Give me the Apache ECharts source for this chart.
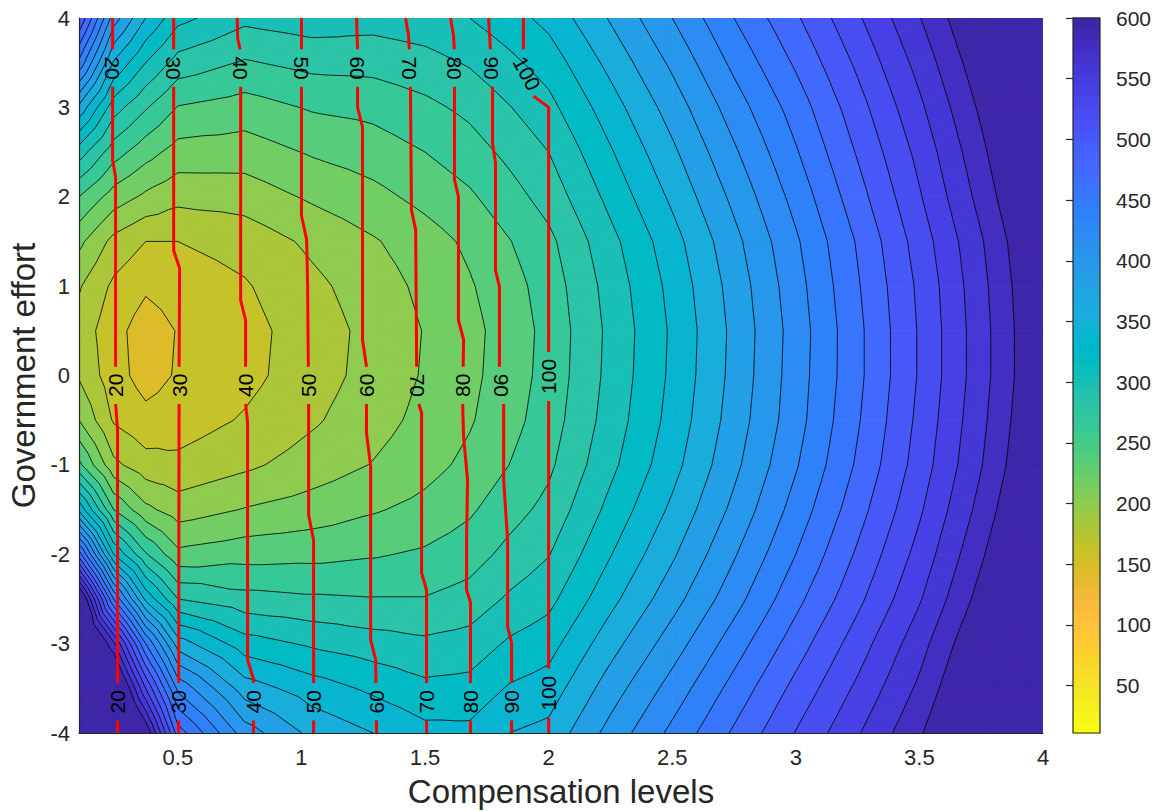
<!DOCTYPE html>
<html>
<head>
<meta charset="utf-8">
<script src="https://cdn.jsdelivr.net/npm/echarts@6.0.0/dist/echarts.min.js"></script>
<style>
html, body { margin: 0; padding: 0; background: #ffffff; }
#chart { width: 1165px; height: 811px; }
</style>
</head>
<body>
<div id="chart"></div>
<script>
// ---- surface sampled on a grid (compensation level x government effort) ----
const xNodes = [0.1, 0.24, 0.37, 0.5, 0.77, 1.04, 1.29, 1.5, 1.68, 1.84, 2.0, 2.25, 2.5, 2.75, 3.0, 3.25, 3.5, 3.75, 4.0];
const yNodes = [4, 3.5, 3, 2.5, 2, 1.5, 1, 0.5, 0, -0.5, -1, -1.5, -2, -2.5, -3, -3.5, -4];
const zRows = [
  [500, 390, 340, 306, 285, 291, 288, 292, 300, 312, 326, 362, 400, 440, 477, 517, 559, 605, 658],
  [435, 338, 300, 272, 258, 266, 267, 273, 282, 295, 309, 346, 384, 425, 463, 504, 547, 594, 647],
  [355, 289, 262, 239, 231, 242, 246, 255, 265, 279, 294, 331, 369, 410, 449, 492, 536, 584, 636],
  [290, 249, 228, 212, 210, 222, 230, 240, 251, 265, 280, 318, 356, 397, 438, 482, 526, 575, 627],
  [240, 211, 196, 186, 189, 203, 214, 226, 237, 252, 268, 306, 344, 385, 427, 472, 518, 567, 619],
  [205, 174, 160, 160, 168, 184, 198, 211, 224, 239, 255, 294, 332, 374, 417, 462, 509, 558, 610],
  [182, 156, 143, 148, 158, 175, 190, 205, 218, 232, 249, 288, 326, 368, 412, 458, 504, 554, 606],
  [172, 147, 130, 141, 153, 170, 186, 201, 214, 229, 246, 285, 323, 365, 409, 455, 502, 552, 604],
  [178, 148, 132, 142, 154, 171, 187, 202, 215, 230, 247, 286, 324, 366, 410, 455, 502, 552, 604],
  [200, 158, 146, 150, 162, 177, 192, 206, 218, 233, 250, 289, 327, 369, 412, 458, 505, 555, 607],
  [245, 185, 168, 165, 176, 189, 201, 213, 225, 240, 256, 295, 333, 375, 418, 463, 509, 559, 611],
  [335, 240, 205, 190, 201, 209, 218, 226, 237, 252, 266, 306, 344, 385, 428, 472, 517, 567, 619],
  [470, 320, 262, 225, 232, 234, 238, 243, 251, 266, 279, 319, 357, 398, 440, 483, 527, 577, 628],
  [620, 440, 335, 280, 267, 263, 261, 261, 268, 283, 294, 334, 372, 412, 454, 495, 538, 588, 639],
  [650, 565, 440, 350, 309, 297, 289, 284, 288, 303, 312, 352, 390, 430, 470, 510, 552, 602, 652],
  [680, 640, 520, 415, 350, 330, 316, 305, 307, 322, 329, 370, 408, 447, 486, 524, 564, 614, 665],
  [700, 680, 600, 470, 390, 355, 340, 326, 325, 340, 346, 387, 425, 463, 501, 538, 577, 627, 677]
];
const fillLevels = [140, 160, 180, 200, 220, 240, 260, 280, 300, 320, 340, 360, 380, 400, 420, 440, 460, 480, 500, 520, 540, 560, 580];
const colorMin = 11;
const colorMax = 600;
const colorTicks = [50, 100, 150, 200, 250, 300, 350, 400, 450, 500, 550, 600];
const xTicks = [0.5, 1, 1.5, 2, 2.5, 3, 3.5, 4];

// ---- share contours (red), one polyline per level ----
const shareLevels = [20, 30, 40, 50, 60, 70, 80, 90, 100];
const shareLines = [
  [[0.236, 4], [0.236, 2.41], [0.248, 2.22], [0.248, -0.31], [0.256, -0.61], [0.256, -4]],
  [[0.483, 4], [0.483, 1.40], [0.507, 1.20], [0.505, 0.10], [0.503, -4]],
  [[0.740, 4], [0.742, 3.77], [0.754, 3.62], [0.754, 0.84], [0.774, 0.62], [0.774, -0.31], [0.782, -0.53], [0.782, -3.18], [0.806, -3.40], [0.806, -4]],
  [[1.0, 4], [1.0, 1.79], [1.021, 1.52], [1.025, 1.0], [1.029, -0.3], [1.029, -1.56], [1.049, -1.84], [1.049, -4]],
  [[1.223, 4], [1.227, 3.62], [1.227, 3.0], [1.247, 2.78], [1.247, 0.40], [1.263, 0.10], [1.263, -0.64], [1.280, -1.02], [1.280, -2.96], [1.300, -3.18], [1.304, -4]],
  [[1.421, 4], [1.433, 3.81], [1.437, 3.62], [1.441, 3.2], [1.445, 1.85], [1.462, 1.63], [1.466, 0.10], [1.474, -0.31], [1.486, -0.42], [1.486, -2.21], [1.506, -2.40], [1.506, -4]],
  [[1.603, 4], [1.615, 3.81], [1.619, 3.62], [1.619, 2.19], [1.635, 2.0], [1.635, 0.62], [1.656, 0.40], [1.652, -0.31], [1.656, -0.69], [1.672, -1.17], [1.668, -1.84], [1.668, -2.40], [1.684, -2.54], [1.684, -4]],
  [[1.757, 4], [1.765, 3.62], [1.773, 3.21], [1.773, 2.60], [1.785, 2.38], [1.785, 1.18], [1.801, 0.99], [1.801, 0.10], [1.818, -0.31], [1.818, -1.17], [1.834, -1.84], [1.834, -2.81], [1.850, -2.99], [1.850, -4]],
  [[1.898, 4], [1.898, 3.6], [1.927, 3.15], [2.0, 3.0], [2.0, -4]]
];
// inline labels: level, position along the line (effort value), reading direction
const shareLabels = [
  { level: 20, y: 3.44, dir: 'down' }, { level: 30, y: 3.44, dir: 'down' }, { level: 40, y: 3.44, dir: 'down' },
  { level: 50, y: 3.44, dir: 'down' }, { level: 60, y: 3.44, dir: 'down' }, { level: 70, y: 3.44, dir: 'down' },
  { level: 80, y: 3.44, dir: 'down' }, { level: 90, y: 3.44, dir: 'down' }, { level: 100, y: 3.38, rot: -62 },
  { level: 20, y: -0.11, dir: 'up' }, { level: 30, y: -0.11, dir: 'up' }, { level: 40, y: -0.11, dir: 'up' },
  { level: 50, y: -0.11, dir: 'up' }, { level: 60, y: -0.11, dir: 'up' }, { level: 70, y: -0.11, dir: 'down' },
  { level: 80, y: -0.11, dir: 'up' }, { level: 90, y: -0.11, dir: 'down' }, { level: 100, y: -0.01, dir: 'up' },
  { level: 20, y: -3.65, dir: 'up' }, { level: 30, y: -3.65, dir: 'up' }, { level: 40, y: -3.65, dir: 'up' },
  { level: 50, y: -3.65, dir: 'up' }, { level: 60, y: -3.65, dir: 'up' }, { level: 70, y: -3.65, dir: 'up' },
  { level: 80, y: -3.65, dir: 'up' }, { level: 90, y: -3.65, dir: 'up' }, { level: 100, y: -3.555, dir: 'up' }
];

// ---- parula colormap (64 entries), used reversed: low values yellow, high values dark blue ----
const parula = [
  [0.2422,0.1504,0.6603],[0.2504,0.1650,0.7076],[0.2578,0.1818,0.7511],[0.2647,0.1978,0.7952],
  [0.2706,0.2147,0.8364],[0.2751,0.2342,0.8710],[0.2783,0.2559,0.8991],[0.2803,0.2782,0.9221],
  [0.2813,0.3006,0.9414],[0.2810,0.3228,0.9579],[0.2795,0.3447,0.9717],[0.2760,0.3667,0.9829],
  [0.2699,0.3892,0.9906],[0.2602,0.4123,0.9952],[0.2440,0.4358,0.9988],[0.2206,0.4603,0.9973],
  [0.1963,0.4847,0.9892],[0.1834,0.5074,0.9798],[0.1786,0.5289,0.9682],[0.1764,0.5499,0.9520],
  [0.1687,0.5703,0.9359],[0.1540,0.5902,0.9218],[0.1460,0.6091,0.9079],[0.1380,0.6276,0.8973],
  [0.1248,0.6459,0.8883],[0.1113,0.6635,0.8763],[0.0952,0.6798,0.8598],[0.0689,0.6948,0.8394],
  [0.0297,0.7082,0.8163],[0.0036,0.7203,0.7917],[0.0067,0.7312,0.7660],[0.0433,0.7411,0.7394],
  [0.0964,0.7500,0.7120],[0.1408,0.7584,0.6842],[0.1717,0.7670,0.6554],[0.1938,0.7758,0.6251],
  [0.2161,0.7843,0.5923],[0.2470,0.7918,0.5567],[0.2906,0.7973,0.5188],[0.3406,0.8008,0.4789],
  [0.3909,0.8029,0.4354],[0.4456,0.8024,0.3909],[0.5044,0.7993,0.3480],[0.5616,0.7942,0.3045],
  [0.6174,0.7876,0.2612],[0.6720,0.7793,0.2227],[0.7242,0.7698,0.1910],[0.7738,0.7598,0.1646],
  [0.8203,0.7498,0.1535],[0.8634,0.7406,0.1596],[0.9035,0.7330,0.1774],[0.9393,0.7288,0.2100],
  [0.9728,0.7298,0.2394],[0.9956,0.7434,0.2371],[0.9970,0.7659,0.2199],[0.9952,0.7893,0.2028],
  [0.9892,0.8136,0.1885],[0.9786,0.8386,0.1766],[0.9676,0.8639,0.1643],[0.9610,0.8890,0.1537],
  [0.9597,0.9135,0.1423],[0.9628,0.9373,0.1265],[0.9691,0.9606,0.1064],[0.9769,0.9839,0.0805]
];
function rgb(c) {
  return 'rgb(' + Math.round(c[0] * 255) + ',' + Math.round(c[1] * 255) + ',' + Math.round(c[2] * 255) + ')';
}
// value -> colour, 64 discrete steps over [colorMin, colorMax], reversed parula
function valueColor(v) {
  const t = Math.max(0, Math.min(1, (v - colorMin) / (colorMax - colorMin)));
  const idx = Math.min(63, Math.floor(t * 64));
  return rgb(parula[63 - idx]);
}

// ---- triangulated grid: 4 triangles per cell around the cell centre ----
const NX = xNodes.length, NY = yNodes.length;
const verts = [];
for (let r = 0; r < NY; r++) for (let c = 0; c < NX; c++) verts.push([xNodes[c], yNodes[r], zRows[r][c]]);
const tris = [];
for (let r = 0; r < NY - 1; r++) {
  for (let c = 0; c < NX - 1; c++) {
    const a = r * NX + c, b = a + 1, e = a + NX, d = e + 1;
    const va = verts[a], vb = verts[b], vd = verts[d], ve = verts[e];
    verts.push([(va[0] + vb[0]) / 2, (va[1] + ve[1]) / 2, (va[2] + vb[2] + vd[2] + ve[2]) / 4]);
    const m = verts.length - 1;
    tris.push([a, b, m], [b, d, m], [d, e, m], [e, a, m]);
  }
}

function clipHalf(poly, f) {
  const out = [];
  for (let i = 0; i < poly.length; i++) {
    const p = poly[i], q = poly[(i + 1) % poly.length];
    const fp = f(p), fq = f(q);
    if (fp >= 0) out.push(p);
    if ((fp >= 0) !== (fq >= 0)) {
      const t = fp / (fp - fq);
      out.push([p[0] + t * (q[0] - p[0]), p[1] + t * (q[1] - p[1]), p[2] + t * (q[2] - p[2])]);
    }
  }
  return out;
}

// filled bands: band k lies between fillLevels[k-1] and fillLevels[k]
const bandPolys = [];
const bandBounds = [-Infinity].concat(fillLevels, [Infinity]);
tris.forEach(function (t) {
  const tri = t.map(function (i) { return verts[i]; });
  const zs = tri.map(function (p) { return p[2]; });
  const zmin = Math.min.apply(null, zs), zmax = Math.max.apply(null, zs);
  for (let k = 0; k < bandBounds.length - 1; k++) {
    const lo = bandBounds[k], hi = bandBounds[k + 1];
    if (hi < zmin || lo > zmax) continue;
    let poly = tri;
    if (lo > -Infinity) poly = clipHalf(poly, function (p) { return p[2] - lo; });
    if (poly.length >= 3 && hi < Infinity) poly = clipHalf(poly, function (p) { return hi - p[2]; });
    if (poly.length >= 3) {
      const colourValue = k < fillLevels.length ? fillLevels[k] : colorMax;
      bandPolys.push({ pts: poly, color: valueColor(colourValue) });
    }
  }
});

// contour lines, chained through shared triangle edges
const contourLines = [];
fillLevels.forEach(function (L0) {
  const L = L0 + 1e-4;
  const segs = [];
  tris.forEach(function (t) {
    const cross = [];
    for (let e = 0; e < 3; e++) {
      const ia = t[e], ib = t[(e + 1) % 3];
      const pa = verts[ia], pb = verts[ib];
      if ((pa[2] > L) !== (pb[2] > L)) {
        const u = (L - pa[2]) / (pb[2] - pa[2]);
        cross.push({ key: Math.min(ia, ib) + '_' + Math.max(ia, ib), p: [pa[0] + u * (pb[0] - pa[0]), pa[1] + u * (pb[1] - pa[1])] });
      }
    }
    if (cross.length === 2) segs.push(cross);
  });
  const byKey = new Map();
  segs.forEach(function (s, i) {
    s.forEach(function (end) {
      if (!byKey.has(end.key)) byKey.set(end.key, []);
      byKey.get(end.key).push(i);
    });
  });
  const used = new Array(segs.length).fill(false);
  function extend(chain, atEnd) {
    for (;;) {
      const end = atEnd ? chain[chain.length - 1] : chain[0];
      const cands = byKey.get(end.key).filter(function (j) { return !used[j]; });
      if (!cands.length) break;
      const j = cands[0];
      used[j] = true;
      const next = segs[j][0].key === end.key ? segs[j][1] : segs[j][0];
      if (atEnd) chain.push(next); else chain.unshift(next);
    }
  }
  for (let i = 0; i < segs.length; i++) {
    if (used[i]) continue;
    used[i] = true;
    const chain = [segs[i][0], segs[i][1]];
    extend(chain, true);
    extend(chain, false);
    contourLines.push(chain.map(function (c) { return c.p; }));
  }
});

// ---- rendering helpers ----
const FONT = '"Liberation Sans", Arial, Helvetica, sans-serif';
const labelSize = 21;

function renderBand(params, api) {
  const item = bandPolys[api.value(2)];
  const pts = item.pts.map(function (p) { return api.coord([p[0], p[1]]); });
  return {
    type: 'polygon',
    shape: { points: pts },
    style: { fill: item.color, stroke: item.color, lineWidth: 0.8 },
    silent: true
  };
}

function renderContour(params, api) {
  const pts = contourLines[api.value(2)].map(function (p) { return api.coord(p); });
  return {
    type: 'polyline',
    shape: { points: pts },
    style: { stroke: '#000000', lineWidth: 0.8, fill: null, lineJoin: 'round' },
    silent: true
  };
}

function pointAt(px, cum, s) {
  for (let k = 0; k < px.length - 1; k++) {
    if (s <= cum[k + 1] || k === px.length - 2) {
      const seg = cum[k + 1] - cum[k];
      const t = seg > 0 ? (s - cum[k]) / seg : 0;
      return [px[k][0] + t * (px[k + 1][0] - px[k][0]), px[k][1] + t * (px[k + 1][1] - px[k][1])];
    }
  }
  return px[px.length - 1];
}

function renderShare(params, api) {
  const i = api.value(2);
  const level = shareLevels[i];
  const line = shareLines[i];
  const px = line.map(function (p) { return api.coord(p); });
  const cum = [0];
  for (let k = 1; k < px.length; k++) cum.push(cum[k - 1] + Math.hypot(px[k][0] - px[k - 1][0], px[k][1] - px[k - 1][1]));
  const total = cum[cum.length - 1];
  const children = [];
  const cuts = [];
  shareLabels.filter(function (l) { return l.level === level; }).forEach(function (l) {
    for (let k = 0; k < line.length - 1; k++) {
      const y0 = line[k][1], y1 = line[k + 1][1];
      if (y0 !== y1 && (y0 - l.y) * (y1 - l.y) <= 0) {
        const t = (y0 - l.y) / (y0 - y1);
        const s = cum[k] + t * (cum[k + 1] - cum[k]);
        const anchor = [px[k][0] + t * (px[k + 1][0] - px[k][0]), px[k][1] + t * (px[k + 1][1] - px[k][1])];
        const text = String(level);
        const half = text.length * 0.556 * labelSize / 2 + 7;
        cuts.push([s - half, s + half]);
        const rot = l.rot != null ? l.rot * Math.PI / 180 : (l.dir === 'up' ? Math.PI / 2 : -Math.PI / 2);
        children.push({
          type: 'text', x: anchor[0], y: anchor[1], rotation: rot, z2: 5,
          style: { text: text, fill: '#000000', fontSize: labelSize, fontFamily: FONT, align: 'center', verticalAlign: 'middle' }
        });
        break;
      }
    }
  });
  cuts.sort(function (a, b) { return a[0] - b[0]; });
  const keep = [];
  let start = 0;
  cuts.forEach(function (c) {
    if (c[0] > start) keep.push([start, c[0]]);
    start = Math.max(start, c[1]);
  });
  if (start < total) keep.push([start, total]);
  keep.forEach(function (iv) {
    const pts = [pointAt(px, cum, iv[0])];
    for (let k = 1; k < px.length - 1; k++) if (cum[k] > iv[0] && cum[k] < iv[1]) pts.push(px[k]);
    pts.push(pointAt(px, cum, iv[1]));
    children.push({
      type: 'polyline', shape: { points: pts },
      style: { stroke: '#ff0000', lineWidth: 3, fill: null, lineJoin: 'round', lineCap: 'butt' }
    });
  });
  return { type: 'group', children: children, silent: true };
}

// colour bar: 64 constant-colour steps
const barSteps = [];
for (let i = 0; i < 64; i++) barSteps.push([0.5, colorMin + (i + 0.5) * (colorMax - colorMin) / 64, i]);
function renderBar(params, api) {
  const i = api.value(2);
  const v0 = colorMin + i * (colorMax - colorMin) / 64;
  const v1 = colorMin + (i + 1) * (colorMax - colorMin) / 64;
  const p0 = api.coord([0, v0]), p1 = api.coord([1, v1]);
  return {
    type: 'rect',
    shape: { x: p0[0], y: p1[1] - 0.5, width: p1[0] - p0[0], height: p0[1] - p1[1] + 1 },
    style: { fill: rgb(parula[63 - i]) },
    silent: true
  };
}
function renderBarFrame(params, api) {
  const p0 = api.coord([0, colorMin]), p1 = api.coord([1, colorMax]);
  return {
    type: 'rect',
    shape: { x: p0[0], y: p1[1], width: p1[0] - p0[0], height: p0[1] - p1[1] },
    style: { fill: null, stroke: '#262626', lineWidth: 1.2 },
    silent: true
  };
}

const axisText = { color: '#262626', fontFamily: FONT };

const chart = echarts.init(document.getElementById('chart'), null, { renderer: 'svg' });
chart.setOption({
  animation: false,
  backgroundColor: '#ffffff',
  grid: [
    { left: 79, top: 18, width: 964, height: 715, outerBoundsMode: 'none', containLabel: false },
    { left: 1073, top: 18, width: 27, height: 715, outerBoundsMode: 'none', containLabel: false }
  ],
  xAxis: [
    {
      gridIndex: 0, type: 'value', min: 0.1, max: 4, z: 10,
      axisLine: { show: true, onZero: false, lineStyle: { color: '#262626', width: 1.2 } },
      axisTick: { show: false },
      splitLine: { show: false },
      axisLabel: Object.assign({ customValues: xTicks, fontSize: 22, margin: 13, formatter: function (v) { return String(v); } }, axisText),
      name: 'Compensation levels', nameLocation: 'middle', nameGap: 42,
      nameTextStyle: Object.assign({ fontSize: 33 }, axisText)
    },
    { gridIndex: 1, type: 'value', min: 0, max: 1, show: false }
  ],
  yAxis: [
    {
      gridIndex: 0, type: 'value', min: -4, max: 4, interval: 1, z: 10,
      axisLine: { show: true, onZero: false, lineStyle: { color: '#262626', width: 1.2 } },
      axisTick: { show: false },
      splitLine: { show: false },
      axisLabel: Object.assign({ fontSize: 22, margin: 9 }, axisText),
      name: 'Government effort', nameLocation: 'middle', nameGap: 34, nameRotate: 90,
      nameTextStyle: Object.assign({ fontSize: 33 }, axisText)
    },
    {
      gridIndex: 1, type: 'value', min: colorMin, max: colorMax, position: 'right', z: 10,
      axisLine: { show: false },
      axisTick: { show: true, inside: true, length: 7, customValues: colorTicks, lineStyle: { color: '#262626', width: 1.2 } },
      splitLine: { show: false },
      axisLabel: Object.assign({ customValues: colorTicks, fontSize: 21, margin: 16 }, axisText)
    }
  ],
  series: [
    {
      type: 'custom', xAxisIndex: 0, yAxisIndex: 0, z: 1, clip: true,
      data: bandPolys.map(function (b, i) { return [b.pts[0][0], b.pts[0][1], i]; }),
      encode: { x: 0, y: 1 },
      renderItem: renderBand
    },
    {
      type: 'custom', xAxisIndex: 0, yAxisIndex: 0, z: 2, clip: true,
      data: contourLines.map(function (l, i) { return [l[0][0], l[0][1], i]; }),
      encode: { x: 0, y: 1 },
      renderItem: renderContour
    },
    {
      type: 'custom', xAxisIndex: 0, yAxisIndex: 0, z: 3,
      data: shareLines.map(function (l, i) { return [l[0][0], 0, i]; }),
      encode: { x: 0, y: 1 },
      renderItem: renderShare
    },
    {
      type: 'custom', xAxisIndex: 1, yAxisIndex: 1, z: 1,
      data: barSteps,
      encode: { x: 0, y: 1 },
      renderItem: renderBar
    },
    {
      type: 'custom', xAxisIndex: 1, yAxisIndex: 1, z: 4,
      data: [[0.5, colorMin, 0]],
      encode: { x: 0, y: 1 },
      renderItem: renderBarFrame
    }
  ]
});
</script>
</body>
</html>
